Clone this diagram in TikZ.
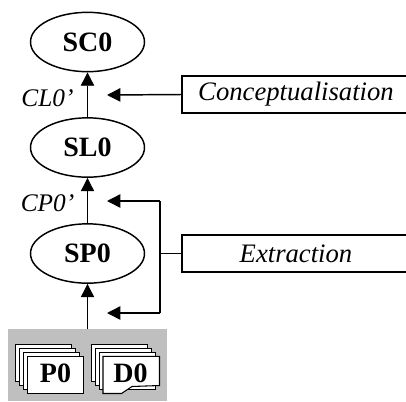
\documentclass[tikz,border=0pt]{standalone}
\usepackage{fontspec}
\setmainfont{Liberation Serif}
\usetikzlibrary{arrows.meta,shapes.geometric}
\newcommand{\lowertext}[1]{\raisebox{-1.2pt}{#1}}
\tikzset{
  x=0.75pt,y=-0.75pt,
  state/.style={draw,line width=1.1pt,ellipse,minimum width=85.5pt,minimum height=44.5pt,inner sep=0pt,font=\fontsize{21}{23}\selectfont\bfseries},
  tool/.style={draw,line width=1.1pt,fill=white,inner sep=0pt,minimum width=171pt,minimum height=28pt,font=\fontsize{20}{23}\selectfont\itshape},
  lab/.style={inner sep=0pt,font=\fontsize{19}{23}\selectfont\itshape},
  flow/.style={line width=0.7pt,-{Triangle[length=10pt,width=10pt]}},
  act/.style={line width=1.1pt,-{Triangle[length=10pt,width=10pt]}},
  act0/.style={line width=1.1pt},
  sheet/.style={draw,line width=0.8pt,fill=white},
  doclab/.style={inner sep=0pt,font=\fontsize{21}{23}\selectfont\bfseries}
}
\begin{document}
\begin{tikzpicture}
\useasboundingbox (0,0) rectangle (406,401);
\fill[black!25] (8,329) rectangle (167,401);
\node[state] (sc) at (87.5,42) {\lowertext{SC0}};
\node[state] (sl) at (87.5,147.5) {\lowertext{SL0}};
\node[state] (sp) at (87.5,253.5) {\lowertext{SP0}};
\coordinate (gray) at (87.5,329);
\draw[flow] (sl) -- (sc);
\draw[flow] (sp) -- (sl);
\draw[flow] (gray) -- (sp);
\node[lab] (cl) at (47.5,98.5) {CL0'};
\node[lab] (cp) at (47.5,203.5) {CP0'};
\node[tool] (concept) at (296,94.5) {\lowertext{Conceptualisation}};
\node[tool] (extract) at (296,253.5) {\lowertext{Extraction}};
\coordinate (a1) at (107,95);
\coordinate (a2) at (107,201);
\coordinate (a3) at (107,313);
\coordinate (c1) at (160,201);
\coordinate (c2) at (160,313);
\coordinate (c3) at (160,253.5);
\draw[act] (concept.west) -- (a1);
\draw[act] (c1) -- (a2);
\draw[act] (c2) -- (a3);
\draw[act0] (c1) -- (c2);
\draw[act0] (c3) -- (extract.west);
\foreach \d in {0,4,8}{
  \draw[sheet] (15.7+\d,344.3+\d) rectangle +(56,37.3);
  \draw[sheet] (91.3+\d,344.3+\d) rectangle +(56,37.3);
}
\draw[sheet] (27.5,356.3) rectangle (83.5,393.5);
\draw[sheet] (103,356.3) -- (159.5,356.3) -- (159.5,385.5) -- (132,386.5) -- (121.5,393.5) -- (103,393.5) -- cycle;
\node[doclab] (p0) at (55.5,373) {P0};
\node[doclab] (d0) at (130.5,373) {D0};
\end{tikzpicture}
\end{document}
